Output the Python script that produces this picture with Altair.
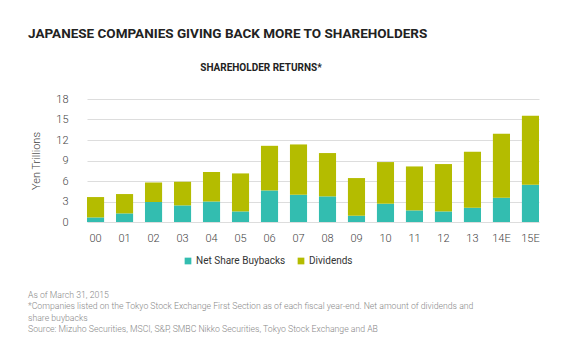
import altair as alt
import pandas as pd

years = ["00", "01", "02", "03", "04", "05", "06", "07", "08", "09",
         "10", "11", "12", "13", "14E", "15E"]
buybacks = [0.67, 1.26, 2.92, 2.43, 3.01, 1.55, 4.62, 3.99, 3.75, 0.92,
            2.68, 1.70, 1.55, 2.09, 3.55, 5.45]
dividends = [2.98, 2.83, 2.87, 3.46, 4.30, 5.56, 6.53, 7.36, 6.34, 5.51,
             6.09, 6.43, 6.93, 8.19, 9.36, 10.09]
series = ["Net Share Buybacks", "Dividends"]
colors = ["#33bdb0", "#b4bc00"]
y_ticks = [0, 3, 6, 9, 12, 15, 18]

title_text = "JAPANESE COMPANIES GIVING BACK MORE TO SHAREHOLDERS"
subtitle_text = "SHAREHOLDER RETURNS*"
notes = [
    "As of March 31, 2015",
    "*Companies listed on the Tokyo Stock Exchange First Section as of each fiscal year-end. Net amount of dividends and",
    "share buybacks",
    "Source: Mizuho Securities, MSCI, S&P, SMBC Nikko Securities, Tokyo Stock Exchange and AB",
]

rows = []
for i, yr in enumerate(years):
    rows.append({"year": yr, "series": series[0], "idx": 0, "value": buybacks[i]})
    rows.append({"year": yr, "series": series[1], "idx": 1, "value": dividends[i]})
df = pd.DataFrame(rows)

label_font = "Roboto"
W, H = 452, 123

bars = alt.Chart(df).mark_bar().encode(
    x=alt.X("year:N", sort=years, title=None,
            scale=alt.Scale(paddingInner=0.41, paddingOuter=0),
            axis=alt.Axis(labelAngle=0, domain=False, ticks=False, labelPadding=10,
                          labelFont=label_font, labelFontSize=11, labelFontWeight=300,
                          labelColor="#444444")),
    y=alt.Y("value:Q", stack="zero", title="Yen Trillions",
            scale=alt.Scale(domain=[0, 18], nice=False),
            axis=alt.Axis(values=y_ticks, domain=False, ticks=False, labelPadding=19,
                          gridColor="#dddddd", gridWidth=1,
                          labelFont=label_font, labelFontSize=11, labelFontWeight=300,
                          labelColor="#444444",
                          titleFont=label_font, titleFontSize=11, titleFontWeight=300,
                          titleColor="#444444", titlePadding=14)),
    color=alt.Color("series:N", scale=alt.Scale(domain=series, range=colors),
                    legend=alt.Legend(title=None, orient="none", direction="horizontal",
                                      legendX=96, legendY=157, symbolType="square",
                                      symbolSize=45, symbolStrokeWidth=0,
                                      labelFont=label_font, labelFontSize=10,
                                      labelColor="#333333", columnPadding=10,
                                      labelOffset=3)),
    order=alt.Order("idx:Q", sort="ascending"),
)

title = alt.Chart(pd.DataFrame({"t": [title_text]})).mark_text(
    align="left", baseline="alphabetic", font="Roboto",
    fontSize=13.5, fontWeight="bold", color="#222222"
).encode(text="t:N", x=alt.value(-59), y=alt.value(-61))

subtitle = alt.Chart(pd.DataFrame({"t": [subtitle_text]})).mark_text(
    align="center", baseline="alphabetic", font="Roboto",
    fontSize=10, fontWeight="bold", color="#222222"
).encode(text="t:N", x=alt.value(174), y=alt.value(-28))

footer = alt.Chart(pd.DataFrame({"t": notes, "i": list(range(len(notes)))})).mark_text(
    align="left", baseline="alphabetic", font=label_font, fontSize=8.7,
    color="#888888", fontWeight=300
).encode(text="t:N", x=alt.value(-59),
         y=alt.Y("i:Q", axis=None, scale=alt.Scale(domain=[0, 3], range=[199, 233])))

chart = alt.layer(bars, title, subtitle, footer).resolve_scale(y="independent").properties(
    width=W, height=H,
    autosize=alt.AutoSizeParams(type="none"),
    padding={"left": 79, "top": 91, "right": 33, "bottom": 129},
    background="white",
).configure_view(stroke=None)

chart.save("out.html", embed_options={"renderer": "svg", "actions": False})
